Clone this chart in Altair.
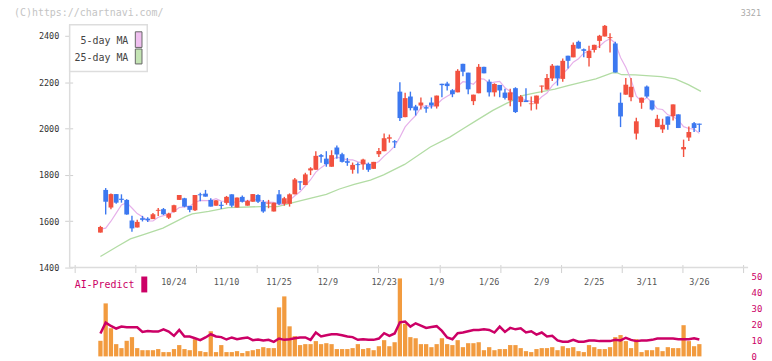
import altair as alt
import numpy as np
import pandas as pd

# ---------------- data ----------------
opens = [1551,1735,1659,1717,1697,1692,1603,1573,1613,1611,1609,1645,1652,1615,1640,1692,1699,1666,1647,1716,
         1719,1692,1667,1671,1679,1716,1659,1705,1667,1684,1713,1683,1676,1642,1716,1675,1675,1716,1772,1756,
         1819,1822,1885,1870,1835,1918,1889,1859,1822,1846,1845,1847,1826,1889,1902,1956,1945,2159,2049,2138,
         2095,2099,2092,2112,2095,2193,2194,2165,2156,2279,2241,2118,2152,2266,2202,2156,2188,2155,2121,2174,
         2114,2121,2105,2107,2181,2168,2216,2271,2214,2314,2307,2374,2342,2304,2339,2378,2397,2390,2367,2111,
         2146,2135,1978,2111,2181,2121,2006,1996,2052,2053,2061,1910,1961,2023,2021]
highs = [1580,1743,1720,1717,1716,1695,1623,1606,1623,1617,1635,1657,1657,1637,1671,1713,1701,1666,1713,1723,
         1735,1699,1692,1684,1709,1716,1702,1711,1692,1717,1716,1692,1692,1680,1735,1705,1720,1786,1772,1809,
         1833,1902,1890,1902,1906,1927,1895,1873,1853,1853,1870,1853,1856,1916,1978,1974,1950,2199,2154,2159,
         2102,2134,2099,2134,2142,2193,2202,2170,2256,2279,2241,2146,2278,2266,2211,2195,2188,2171,2171,2178,
         2145,2174,2138,2142,2185,2235,2278,2271,2302,2314,2371,2379,2345,2357,2361,2404,2447,2411,2374,2155,
         2218,2218,2046,2133,2185,2121,2059,2042,2052,2104,2061,1952,2009,2028,2021]
lows = [1551,1629,1652,1675,1680,1628,1554,1573,1599,1597,1609,1623,1627,1610,1638,1692,1660,1639,1644,1686,
        1706,1663,1667,1653,1671,1660,1659,1681,1667,1684,1679,1637,1656,1642,1670,1667,1663,1716,1735,1756,
        1799,1822,1852,1835,1835,1870,1853,1839,1805,1806,1822,1813,1826,1877,1902,1939,1916,2032,2049,2078,
        2056,2082,2068,2086,2086,2135,2164,2135,2156,2225,2148,2101,2152,2238,2138,2138,2135,2125,2096,2067,
        2095,2114,2078,2082,2154,2168,2205,2185,2202,2259,2307,2345,2307,2268,2328,2347,2397,2328,2242,2006,
        2146,2118,1952,2085,2133,2078,2006,1981,1995,2035,2002,1877,1946,1985,1985]
closes = [1575,1684,1717,1680,1692,1629,1569,1597,1606,1604,1630,1649,1630,1633,1669,1713,1663,1649,1713,1712,
          1706,1663,1690,1666,1705,1667,1702,1684,1687,1717,1684,1642,1680,1680,1675,1699,1716,1780,1767,1802,
          1828,1882,1878,1846,1885,1888,1856,1852,1843,1842,1866,1822,1856,1903,1958,1962,1940,2045,2131,2088,
          2078,2112,2086,2099,2142,2187,2183,2148,2249,2245,2169,2146,2266,2238,2156,2192,2164,2132,2156,2071,
          2138,2114,2108,2142,2185,2218,2271,2216,2292,2292,2361,2345,2335,2335,2361,2400,2443,2394,2242,2052,
          2189,2180,2031,2133,2138,2082,2042,2016,2016,2104,2002,1920,1985,2002,2016]
ma5 = [1566,1570,1600,1635,1670,1680,1657,1633,1619,1601,1601,1617,1624,1629,1642,1659,1662,1665,1681,1690,
       1689,1689,1697,1687,1686,1678,1686,1685,1689,1691,1695,1683,1682,1681,1672,1675,1690,1710,1727,1753,
       1779,1812,1831,1847,1864,1876,1871,1865,1865,1856,1852,1845,1846,1858,1881,1900,1924,1962,2007,2033,
       2056,2091,2099,2093,2103,2125,2139,2152,2182,2202,2199,2191,2215,2213,2195,2200,2203,2176,2160,2143,
       2132,2122,2117,2115,2137,2153,2185,2206,2236,2258,2286,2301,2325,2334,2347,2355,2375,2387,2368,2306,
       2264,2211,2139,2117,2134,2113,2085,2082,2059,2052,2036,2008,2000,1997,1979]
ma25_idx = [0, 3.2, 5.7, 8.2, 11.9, 16.2, 17.5, 20.6, 24.3, 30.5, 33.7, 37.4, 39.9, 43.0, 45.5, 48.3, 51.4,
            53.9, 57.9, 62.8, 66.5, 68.8, 71.6, 74.7, 77.2, 80.3, 82.8, 86.5, 89.0, 92.1, 94.3, 97.4, 98.3,
            99.2, 101.8, 106.7, 109.4, 111.9, 114.3]
ma25_val = [1448, 1491, 1524, 1542, 1570, 1620, 1632, 1642, 1659, 1663, 1663, 1684, 1699, 1716, 1739, 1759,
            1777, 1800, 1845, 1920, 1963, 1996, 2035, 2078, 2107, 2142, 2154, 2170, 2185, 2202, 2214, 2240,
            2241, 2232, 2231, 2224, 2214, 2189, 2160]
volumes = [9.8,33.3,17.7,7.7,5.2,9.8,12.1,5.2,3.9,3.9,3.9,4.6,2.7,2.7,4.6,7.1,4.6,3.9,10.8,3.3,
           2.7,15.8,2.7,7.1,2.7,2.7,3.3,2.1,3.3,3.9,4.6,5.8,5.2,5.2,30.8,37.7,18.9,12.7,7.1,7.7,
           7.7,9.6,7.7,8.3,7.7,4.6,4.6,4.6,5.2,7.7,4.6,5.2,3.9,6.4,10.2,6.4,8.9,49,20.5,12.1,
           11.4,7.7,7.7,5.8,7.7,11.4,7.7,7.1,10.2,5.8,8.3,8.3,8.9,3.9,5.8,3.9,4.6,4.6,7.1,7.1,
           5.2,3.3,2.7,4.6,5.2,5.2,5.8,3.9,6.4,5.2,5.8,3.3,2.7,7.1,5.8,4.6,4.6,5.8,12.1,13.4,
           9.6,5.2,10.8,2.7,3.9,3.9,5.8,3.3,5.8,5.2,5.2,19.6,9.6,6.4,7.7]
ai_predict = [14.4,21.2,19.1,17.5,18.7,18.3,18.3,18.3,15.4,16.0,15.6,15.6,17.0,15.6,12.9,16.6,12.5,12.5,11.4,10.2,
              11.9,13.9,12.5,12.1,10.6,11.9,10.8,11.4,11.9,10.2,10.6,10.0,10.4,9.1,11.2,10.4,10.8,11.4,11.9,11.9,
              10.4,15.0,12.5,13.3,13.9,13.9,13.3,12.5,12.1,10.4,10.8,10.4,10.4,11.2,14.6,12.9,14.4,21.4,21.9,18.7,
              20.8,19.4,17.9,18.5,19.0,16.0,11.9,10.8,14.6,15.0,15.8,16.6,16.6,17.0,16.6,15.0,18.7,15.4,17.9,17.0,
              17.7,15.0,15.8,13.7,15.0,12.5,12.9,10.0,9.2,9.2,10.4,9.2,9.2,10.0,10.0,9.6,9.6,9.6,10.4,10.0,
              11.7,10.4,9.6,10.0,10.0,10.4,11.2,11.2,11.2,11.2,10.8,10.8,10.8,11.4,10.6]
date_labels = ["10/24", "11/10", "11/25", "12/9", "12/23", "1/9", "1/26", "2/9", "2/25", "3/11", "3/26"]
date_label_idx = [14, 24, 34, 43.3, 54, 64, 74, 84, 94, 104, 114]
price_ticks = [1400, 1600, 1800, 2000, 2200, 2400]
vol_ticks = [0, 10, 20, 30, 40, 50]

# ---------------- styling ----------------
RED, BLUE = "#f2513f", "#3c78f0"
ORANGE, CRIMSON = "#f29b3f", "#cc0066"
PINK, GREEN = "#e6b0ea", "#b2dca4"
MONO = "DejaVu Sans Mono"
W, H = 682, 353
X_DOMAIN = [-4.907, 122.33]

n = len(closes)
df = pd.DataFrame({"i": range(n), "open": opens, "high": highs, "low": lows, "close": closes,
                   "ma5": ma5, "vol": volumes, "ai": ai_predict})
df["col"] = [RED if c >= o else BLUE for o, c in zip(opens, closes)]
ma25_df = pd.DataFrame({"i": ma25_idx, "v": ma25_val})
lab_df = pd.DataFrame({"i": date_label_idx, "t": date_labels})

xaxis = alt.Axis(values=list(np.linspace(X_DOMAIN[0], X_DOMAIN[1], 12)), labels=False, domain=False,
                 ticks=True, tickSize=8, tickColor="#d0d0d0", offset=-96, grid=False, title=None)
xscale = alt.Scale(domain=X_DOMAIN, nice=False, zero=False)
X = lambda: alt.X("i:Q", scale=xscale, axis=xaxis)

pscale = alt.Scale(domain=[1400, 2400], range=[260, 27], nice=False, zero=False)
paxis = alt.Axis(values=price_ticks, format="d", domain=False, tickSize=8, offset=-3, labelPadding=6,
                 tickColor="#d0d0d0", labelFont=MONO, labelFontSize=8.5, labelColor="#333",
                 grid=False, title=None)
vscale = alt.Scale(domain=[0, 50], range=[349.3, 269.3], nice=False, zero=False)
vaxis = alt.Axis(orient="right", values=vol_ticks, format="d", domain=False, ticks=False, labelPadding=3,
                 labelFont=MONO, labelFontSize=9, labelColor=CRIMSON, grid=False, title=None)

base = alt.Chart(df)
ma25_line = alt.Chart(ma25_df).mark_line(color=GREEN, strokeWidth=1.3).encode(
    x=X(), y=alt.Y("v:Q", scale=pscale, axis=paxis))
ma5_line = base.mark_line(color=PINK, strokeWidth=1.2).encode(
    x=X(), y=alt.Y("ma5:Q", scale=pscale, axis=paxis))
wicks = base.mark_rule(strokeWidth=1.4).encode(
    x=X(), y=alt.Y("low:Q", scale=pscale, axis=paxis), y2="high:Q",
    color=alt.Color("col:N", scale=None))
bodies = base.mark_bar(size=4.8).encode(
    x=X(), y=alt.Y("open:Q", scale=pscale, axis=paxis), y2="close:Q",
    color=alt.Color("col:N", scale=None))
price = alt.layer(ma25_line, ma5_line, wicks, bodies)

vbars = base.mark_bar(size=4.3, color=ORANGE).encode(
    x=X(), y=alt.Y("vol:Q", scale=vscale, axis=vaxis))
ai_line = base.mark_line(color=CRIMSON, strokeWidth=2.5).encode(
    x=X(), y=alt.Y("ai:Q", scale=vscale, axis=vaxis))
volume = alt.layer(vbars, ai_line)

dates = alt.Chart(lab_df).mark_text(font=MONO, fontSize=8.5, color="#555", align="center",
                                    baseline="middle").encode(x=X(), y=alt.value(275), text="t:N")


def one(text):
    return alt.Chart(pd.DataFrame({"t": [text]}))


def txt(text, x, y, **kw):
    return one(text).mark_text(font=MONO, baseline="middle", **kw).encode(
        x=alt.value(x), y=alt.value(y), text="t:N")


def box(x, x2, y, y2, **kw):
    return one("b").mark_rect(**kw).encode(x=alt.value(x), x2=alt.value(x2), y=alt.value(y), y2=alt.value(y2))


def line(x, x2, y, y2, **kw):
    return one("l").mark_rule(**kw).encode(x=alt.value(x), x2=alt.value(x2), y=alt.value(y), y2=alt.value(y2))


decor = [
    line(0, 0, 16, 260, color="#dcdcdc", strokeWidth=1.5),
    line(0, W, 260, 260, color="#dcdcdc", strokeWidth=1.5),
]
legend = [
    box(0, 78, 16, 63, fill="white", stroke="#dddddd", strokeWidth=1.5),
    txt("5-day MA", 59, 32.7, align="right", fontSize=10, color="#444"),
    txt("25-day MA", 59, 49.3, align="right", fontSize=10, color="#444"),
    box(66, 72.7, 23, 38.7, fill="#f0c0f0", stroke="#666", strokeWidth=1),
    box(66, 72.7, 40.3, 55.3, fill="#c4e4b4", stroke="#666", strokeWidth=1),
    txt("AI-Predict", 5, 278, align="left", fontSize=10, color=CRIMSON),
    box(72, 78, 269, 285, fill=CRIMSON),
    txt("(C)https://chartnavi.com/", -56, 4.5, align="left", fontSize=10, color="#c4c4c4"),
    txt("3321", 695, 4.5, align="right", fontSize=8.5, color="#aaaaaa"),
]

chart = alt.layer(*decor, price, volume, dates, *legend).resolve_scale(y="independent").properties(
    width=W, height=H,
    padding={"left": 62, "top": 0, "right": 16, "bottom": 0},
    autosize=alt.AutoSizeParams(type="none"),
).configure_view(stroke=None)

chart.save("out.html", embed_options={"renderer": "svg", "actions": False})
